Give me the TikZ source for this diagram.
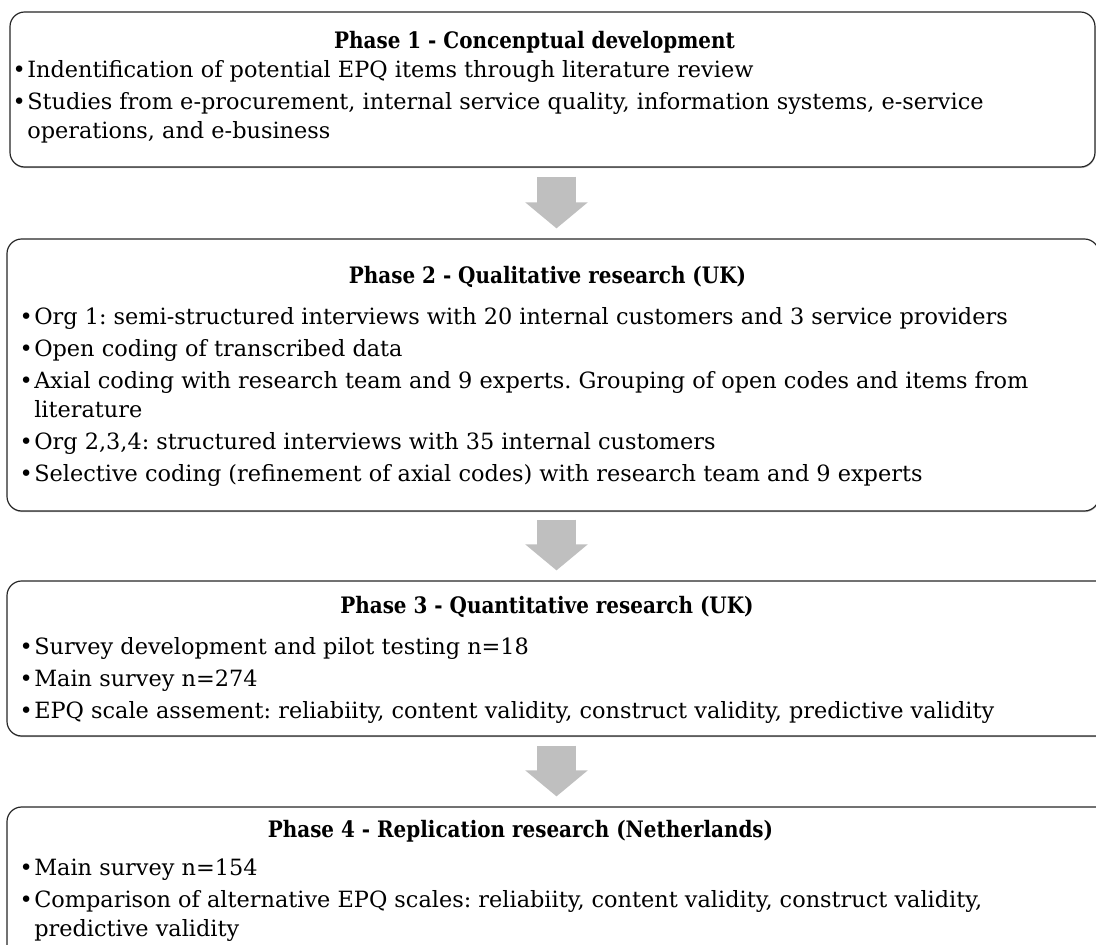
\documentclass[tikz,border=0pt]{standalone}
\usepackage{fontspec}
\setmainfont{DejaVu Serif}
\newfontfamily\phasehead{DejaVu Serif}[FakeStretch=0.88]
\usetikzlibrary{arrows.meta, positioning, calc, shadows}

\definecolor{arrowgray}{RGB}{191,191,191}
\tikzset{
  phasebox/.style={draw=black!85, line width=0.9pt, rounded corners=11pt, fill=white, inner sep=0pt,
    drop shadow={shadow xshift=0.3pt, shadow yshift=-0.9pt, fill=black!50}},
  phasetitle/.style={font=\phasehead\fontsize{17}{21.75}\selectfont\bfseries, anchor=base, inner sep=0pt},
  phaselist/.style={font=\fontsize{16.8}{21.75}\selectfont\frenchspacing, align=left, anchor=north west, inner sep=0pt},
  flowarrow/.style={draw=arrowgray, line width=29.25pt, -{Triangle[length=19.5pt, width=45.75pt]}}
}
\newcommand{\pitem}{\llap{\textbullet\hskip1pt}}

\begin{document}
\begin{tikzpicture}[x=0.75pt, y=-0.75pt]
\useasboundingbox (0,0) rectangle (1096,945);
\clip (0,0) rectangle (1096,945);

% Phase boxes
\node[phasebox, minimum width=813.75pt, minimum height=116.25pt] (p1) at (552.5,89.5) {};
\node[phasebox, minimum width=819pt, minimum height=204pt] (p2) at (553,375) {};
\node[phasebox, minimum width=831pt, minimum height=116.25pt] (p3) at (561,658.5) {};
\node[phasebox, minimum width=831pt, minimum height=123.75pt] (p4) at (561,889.5) {};

% Titles
\node[phasetitle] (t1) at (534.5,49) {Phase 1 - Concenptual development};
\node[phasetitle] (t2) at (547.5,283) {Phase 2 - Qualitative research (UK)};
\node[phasetitle] (t3) at (547,613) {Phase 3 - Quantitative research (UK)};
\node[phasetitle] (t4) at (520.5,837) {Phase 4 - Replication research (Netherlands)};

% Bullet lists
\node[phaselist] (l1) at (27,60) {\pitem Indentification of potential EPQ items through literature review\\[2.25pt]
  \pitem Studies from e-procurement, internal service quality, information systems, e-service\\
  operations, and e-business};
\node[phaselist] (l2) at (34,307) {\pitem Org 1: semi-structured interviews with 20 internal customers and 3 service providers\\[2.25pt]
  \pitem Open coding of transcribed data\\[2.25pt]
  \pitem Axial coding with research team and 9 experts. Grouping of open codes and items from\\
  literature\\[2.25pt]
  \pitem Org 2,3,4: structured interviews with 35 internal customers\\[2.25pt]
  \pitem Selective coding (refinement of axial codes) with research team and 9 experts};
\node[phaselist] (l3) at (34,637) {\pitem Survey development and pilot testing n=18\\[2.25pt]
  \pitem Main survey n=274\\[2.25pt]
  \pitem EPQ scale assement: reliabiity, content validity, construct validity, predictive validity};
\node[phaselist] (l4) at (34,859) {\pitem Main survey n=154\\[2.25pt]
  \pitem Comparison of alternative EPQ scales: reliabiity, content validity, construct validity,\\
  predictive validity};

% Arrows between phases
\draw[flowarrow] ($(p1.south)+(4,9)$) -- ($(p2.north)+(3.5,-10)$);
\draw[flowarrow] ($(p2.south)+(3.5,8)$) -- ($(p3.north)+(-4.5,-10)$);
\draw[flowarrow] ($(p3.south)+(-4.5,9)$) -- ($(p4.north)+(-4.5,-10)$);
\end{tikzpicture}
\end{document}
